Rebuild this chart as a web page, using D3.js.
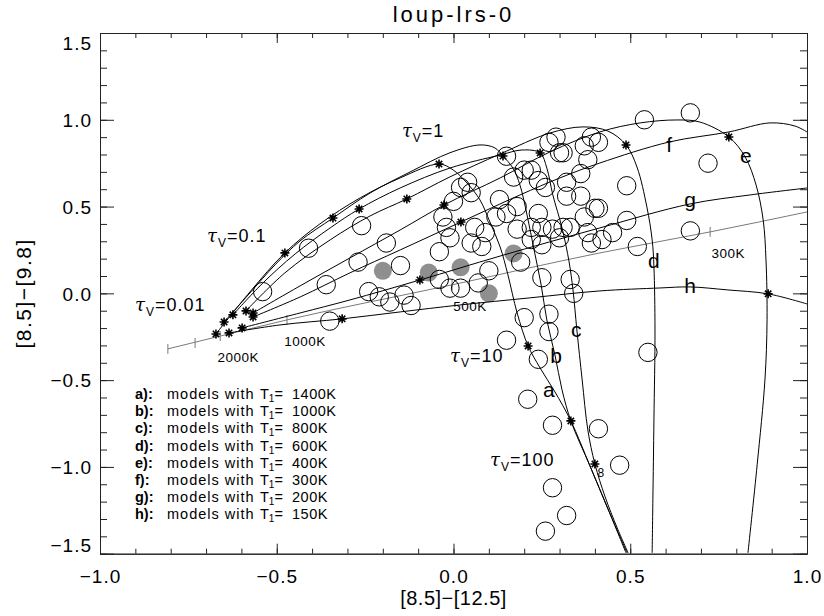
<!DOCTYPE html>
<html><head><meta charset="utf-8">
<script src="https://cdn.jsdelivr.net/npm/d3@7"></script>
<style>
body{margin:0;background:#fff}
text{font-family:"Liberation Sans",Arial,sans-serif;fill:#000}
</style>
</head><body>
<svg id="chart" width="824" height="616"></svg>
<script>
// ---------------- DATA ----------------
const titleText = "loup-lrs-0";
const xLabel = "[8.5]\u2212[12.5]";
const yLabel = "[8.5]\u2212[9.8]";
const xTicks = [-1.0, -0.5, 0.0, 0.5, 1.0];
const yTicks = [-1.5, -1.0, -0.5, 0.0, 0.5, 1.0, 1.5];

// model tracks (x = [8.5]-[12.5], y = [8.5]-[9.8]), tau_V increasing along each track
const curveA = [[-0.672,-0.234],[-0.576,0.008],[-0.477,0.233],[-0.378,0.400],[-0.264,0.550],[-0.151,0.665],[-0.041,0.745],[-0.001,0.711],[0.038,0.636],[0.075,0.538],[0.103,0.411],[0.132,0.267],[0.154,0.106],[0.180,-0.113],[0.211,-0.303],[0.245,-0.430],[0.287,-0.568],[0.332,-0.735],[0.386,-0.994],[0.437,-1.242],[0.488,-1.495]];
const curveB = [[-0.649,-0.165],[-0.576,0.002],[-0.505,0.164],[-0.434,0.302],[-0.341,0.434],[-0.236,0.578],[-0.123,0.699],[-0.010,0.810],[0.075,0.855],[0.117,0.838],[0.140,0.791],[0.168,0.722],[0.188,0.624],[0.208,0.452],[0.228,0.250],[0.248,0.048],[0.264,-0.153],[0.287,-0.355],[0.307,-0.556],[0.332,-0.735],[0.386,-0.994],[0.437,-1.242],[0.491,-1.495]];
const curveC = [[-0.624,-0.124],[-0.542,0.054],[-0.448,0.227],[-0.349,0.377],[-0.267,0.486],[-0.151,0.607],[-0.010,0.722],[0.132,0.797],[0.194,0.826],[0.245,0.809],[0.264,0.722],[0.281,0.567],[0.307,0.377],[0.327,0.181],[0.338,0.020],[0.349,-0.211],[0.364,-0.499],[0.380,-0.787],[0.400,-0.983],[0.429,-1.173],[0.463,-1.351],[0.494,-1.495]];
const curveD = [[-0.587,-0.101],[-0.477,0.118],[-0.349,0.308],[-0.236,0.446],[-0.132,0.544],[-0.010,0.671],[0.132,0.803],[0.273,0.924],[0.366,0.959],[0.437,0.935],[0.488,0.855],[0.519,0.728],[0.547,0.498],[0.562,0.308],[0.567,0.152],[0.570,-0.211],[0.567,-0.729],[0.564,-1.190],[0.562,-1.495]];
const curveE = [[-0.567,-0.113],[-0.434,0.043],[-0.293,0.204],[-0.151,0.365],[-0.027,0.509],[0.132,0.665],[0.273,0.815],[0.414,0.930],[0.528,0.982],[0.632,0.999],[0.697,0.987],[0.779,0.901],[0.825,0.786],[0.856,0.624],[0.876,0.423],[0.884,0.192],[0.887,-0.153],[0.881,-0.499],[0.859,-0.988],[0.833,-1.495]];
const curveF = [[-0.567,-0.136],[-0.434,-0.021],[-0.293,0.118],[-0.151,0.250],[0.021,0.411],[0.188,0.567],[0.301,0.665],[0.414,0.751],[0.610,0.872],[0.779,0.930],[0.895,0.982],[0.966,0.964],[1.0,0.930]];
const curveG = [[-0.598,-0.199],[-0.434,-0.113],[-0.293,-0.038],[-0.095,0.077],[0.132,0.215],[0.414,0.377],[0.669,0.515],[0.839,0.567],[1.0,0.607]];
const curveH = [[-0.635,-0.228],[-0.491,-0.182],[-0.315,-0.147],[-0.151,-0.107],[0.018,-0.067],[0.216,-0.026],[0.414,0.014],[0.584,0.031],[0.669,0.037],[0.774,0.020],[0.890,-0.003],[1.0,-0.061]];

// tau_V markers (asterisks)
const tauMarkers = [[-0.672,-0.234],[-0.649,-0.165],[-0.635,-0.228],[-0.624,-0.124],[-0.598,-0.199],[-0.587,-0.101],[-0.567,-0.113],[-0.567,-0.136],
  [-0.477,0.233],[-0.341,0.434],[-0.267,0.486],[-0.132,0.544],[-0.027,0.509],[0.021,0.411],[-0.095,0.077],[-0.315,-0.147],
  [-0.041,0.745],[0.140,0.791],[0.245,0.809],[0.488,0.855],[0.779,0.901],[0.890,-0.003],
  [0.211,-0.303],[0.332,-0.735],[0.400,-0.983]];

// blackbody locus and its temperature marks
const blackbody = [[-0.808,-0.320],[-0.660,-0.246],[-0.471,-0.153],[-0.004,0.049],[0.414,0.233],[0.726,0.354],[1.0,0.469]];
const bbTickX = [-0.808,-0.731,-0.660,-0.471,-0.004,0.726];
const bbTickY = [-0.320,-0.286,-0.246,-0.153,0.049,0.354];
const bbTickLabel = ["","","2000K","1000K","500K","300K"];

// observed sources
const openSources = [[-0.54,0.01],[-0.41,0.26],[-0.26,0.39],[-0.36,0.05],[-0.27,0.18],[-0.19,0.29],[-0.15,0.16],[-0.35,-0.16],[-0.24,0.01],[-0.21,-0.02],[-0.18,-0.05],[-0.14,-0.01],[-0.12,-0.07],
  [0.02,0.61],[0.04,0.64],[0.00,0.53],[-0.03,0.44],[-0.02,0.38],[-0.01,0.32],[-0.04,0.24],[0.06,0.38],[0.13,0.54],[0.15,0.46],[0.18,0.50],[0.12,0.44],[0.09,0.35],[0.08,0.27],[0.05,0.29],[0.18,0.37],[0.10,0.13],[-0.04,0.08],[-0.01,0.03],[0.02,0.03],[0.07,0.06],[0.15,0.79],
  [0.22,0.38],[0.24,0.46],[0.25,0.38],[0.28,0.37],[0.31,0.38],[0.33,0.38],[0.37,0.44],[0.40,0.49],[0.38,0.35],[0.25,0.28],[0.30,0.32],[0.39,0.29],[0.42,0.31],[0.45,0.35],[0.49,0.42],[0.25,0.09],[0.33,0.08],[0.34,0.00],[0.20,-0.14],[0.27,-0.12],
  [0.27,0.87],[0.29,0.90],[0.31,0.81],[0.37,0.85],[0.39,0.90],[0.41,0.87],[0.38,0.77],[0.20,0.71],[0.22,0.71],[0.24,0.65],[0.26,0.61],[0.32,0.64],[0.36,0.56],[0.17,0.67],[0.32,0.56],[0.36,0.69],[0.30,0.81],[0.05,0.58],[0.19,0.18],[0.22,0.31],[0.41,0.49],
  [0.49,0.62],[0.54,1.00],[0.67,1.04],[0.72,0.75],[0.52,0.27],[0.67,0.36],
  [0.27,-0.22],[0.15,-0.27],[0.24,-0.38],[0.21,-0.61],[0.28,-0.76],[0.41,-0.78],[0.47,-0.99],[0.28,-1.12],[0.32,-1.28],[0.26,-1.37],[0.55,-0.34]];
const graySources = [[-0.20,0.13],[-0.07,0.12],[0.02,0.15],[0.17,0.23],[0.10,0.00]];

// track letters
const trackLetters = ["a","b","c","d","e","f","g","h"];
const trackLetterX = [0.270,0.290,0.347,0.567,0.827,0.610,0.669,0.669];
const trackLetterY = [-0.597,-0.401,-0.251,0.146,0.752,0.815,0.498,0.002];

// tau labels
const tauValues = ["0.01","0.1","1","10","100"];
const tauLabelX = [-0.901,-0.697,-0.146,-0.010,0.103];
const tauLabelY = [-0.101,0.296,0.901,-0.395,-0.994];

const extraText = ["8"];
const extraX = [0.417];
const extraY = [-1.058];

// legend
const legendLetters = ["a","b","c","d","e","f","g","h"];
const legendTemps = ["1400K","1000K","800K","600K","400K","300K","200K","150K"];

// ---------------- DRAW ----------------
const W = 824, H = 616;
const L = 100, R = 807, T = 33, B = 553.7;
const svg = d3.select("#chart");
svg.append("rect").attr("width", W).attr("height", H).attr("fill", "#fff");

const x = d3.scaleLinear().domain([-1, 1]).range([L, R]);
const y = d3.scaleLinear().domain([-1.5, 1.5]).range([B, T]);

svg.append("defs").append("clipPath").attr("id", "clip")
  .append("rect").attr("x", L).attr("y", T).attr("width", R - L).attr("height", B - T);
const plot = svg.append("g").attr("clip-path", "url(#clip)");

// gray filled sources (under lines)
plot.selectAll("circle.gray").data(graySources).join("circle")
  .attr("class", "gray").attr("cx", d => x(d[0])).attr("cy", d => y(d[1])).attr("r", 9)
  .attr("fill", "#8f8f8f").attr("stroke", "none");

// blackbody
const smooth = d3.line().x(d => x(d[0])).y(d => y(d[1])).curve(d3.curveMonotoneX);
plot.append("path").datum(blackbody).attr("d", smooth)
  .attr("fill", "none").attr("stroke", "#7a7a7a").attr("stroke-width", 1);
plot.selectAll("line.bbt").data(bbTickX).join("line").attr("class", "bbt")
  .attr("x1", d => x(d)).attr("x2", d => x(d))
  .attr("y1", (d, i) => y(bbTickY[i]) - 5).attr("y2", (d, i) => y(bbTickY[i]) + 5)
  .attr("stroke", "#7a7a7a").attr("stroke-width", 1);
svg.selectAll("text.bbl").data(bbTickLabel).join("text").attr("class", "bbl")
  .attr("x", (d, i) => x(bbTickX[i]) + 18).attr("y", (d, i) => y(bbTickY[i]) + 26)
  .attr("text-anchor", "middle").attr("font-size", 13.5).attr("letter-spacing", 0.5)
  .text(d => d);

// model tracks
const track = d3.line().x(d => x(d[0])).y(d => y(d[1])).curve(d3.curveCatmullRom.alpha(0.5));
[curveA, curveB, curveC, curveD, curveE, curveF, curveG, curveH].forEach(c => {
  plot.append("path").datum(c).attr("d", track)
    .attr("fill", "none").attr("stroke", "#000").attr("stroke-width", 1);
});

// open sources
plot.selectAll("circle.open").data(openSources).join("circle")
  .attr("class", "open").attr("cx", d => x(d[0])).attr("cy", d => y(d[1])).attr("r", 9.2)
  .attr("fill", "none").attr("stroke", "#000").attr("stroke-width", 1);

// asterisks
const star8 = {draw(ctx, size) {
  const r = Math.sqrt(size) / 2, d = r * 0.7071;
  ctx.moveTo(-r, 0); ctx.lineTo(r, 0); ctx.moveTo(0, -r); ctx.lineTo(0, r);
  ctx.moveTo(-d, -d); ctx.lineTo(d, d); ctx.moveTo(-d, d); ctx.lineTo(d, -d);
}};
plot.selectAll("path.star").data(tauMarkers).join("path").attr("class", "star")
  .attr("transform", d => `translate(${x(d[0])},${y(d[1])})`)
  .attr("d", d3.symbol(star8, 81)).attr("fill", "none").attr("stroke", "#000").attr("stroke-width", 1.6);

// track letters
svg.selectAll("text.tl").data(trackLetters).join("text").attr("class", "tl")
  .attr("x", (d, i) => x(trackLetterX[i])).attr("y", (d, i) => y(trackLetterY[i]))
  .attr("text-anchor", "middle").attr("font-size", 21).text(d => d);

// tau labels
tauValues.forEach((v, i) => {
  const t = svg.append("text").attr("x", x(tauLabelX[i])).attr("y", y(tauLabelY[i]))
    .attr("font-size", 18).attr("letter-spacing", 1);
  t.append("tspan").attr("font-style", "italic").attr("font-family", "DejaVu Serif").text("\u03C4");
  t.append("tspan").attr("font-size", 12).attr("dy", 5).text("V");
  t.append("tspan").attr("dy", -5).text("=" + v);
});

svg.selectAll("text.extra").data(extraText).join("text").attr("class", "extra")
  .attr("x", (d, i) => x(extraX[i])).attr("y", (d, i) => y(extraY[i]))
  .attr("text-anchor", "middle").attr("font-size", 12).text(d => d);

// axes
const fmt = d3.format(".1f");
const xMinor = d3.range(-10, 11).map(v => v / 10);
const yMinor = d3.range(-15, 16).map(v => v / 10);
function styleAxis(g) {
  g.select(".domain").attr("stroke", "#222");
  g.selectAll(".tick line").attr("stroke", "#222");
}
svg.append("g").attr("transform", `translate(0,${B})`)
  .call(d3.axisBottom(x).tickValues(xMinor).tickSize(-5).tickSizeOuter(0).tickFormat("")).call(styleAxis);
svg.append("g").attr("transform", `translate(0,${B})`)
  .call(d3.axisBottom(x).tickValues(xTicks).tickSize(-10).tickSizeOuter(0).tickPadding(16).tickFormat(fmt))
  .call(styleAxis)
  .call(g => g.selectAll("text").attr("font-size", 19).attr("letter-spacing", 1).attr("fill", "#000")
    .attr("font-family", '"Liberation Sans",Arial,sans-serif'));
svg.append("g").attr("transform", `translate(0,${T})`)
  .call(d3.axisTop(x).tickValues(xMinor).tickSize(-5).tickSizeOuter(0).tickFormat("")).call(styleAxis);
svg.append("g").attr("transform", `translate(0,${T})`)
  .call(d3.axisTop(x).tickValues(xTicks).tickSize(-10).tickSizeOuter(0).tickFormat("")).call(styleAxis);
svg.append("g").attr("transform", `translate(${L},0)`)
  .call(d3.axisLeft(y).tickValues(yMinor).tickSize(-7).tickSizeOuter(0).tickFormat("")).call(styleAxis);
svg.append("g").attr("transform", `translate(${L},0)`)
  .call(d3.axisLeft(y).tickValues(yTicks).tickSize(-14).tickSizeOuter(0).tickPadding(8).tickFormat(fmt))
  .call(styleAxis)
  .call(g => g.selectAll("text").attr("font-size", 19).attr("letter-spacing", 1).attr("fill", "#000")
    .attr("font-family", '"Liberation Sans",Arial,sans-serif')
    .attr("dy", d => d === 1.5 ? "0.85em" : d === -1.5 ? "-0.1em" : "0.35em"));
svg.append("g").attr("transform", `translate(${R},0)`)
  .call(d3.axisRight(y).tickValues(yMinor).tickSize(-7).tickSizeOuter(0).tickFormat("")).call(styleAxis);
svg.append("g").attr("transform", `translate(${R},0)`)
  .call(d3.axisRight(y).tickValues(yTicks).tickSize(-14).tickSizeOuter(0).tickFormat("")).call(styleAxis);

// titles
svg.append("text").attr("x", (L + R) / 2).attr("y", 22).attr("text-anchor", "middle")
  .attr("font-size", 22).attr("letter-spacing", 3).text(titleText);
svg.append("text").attr("x", (L + R) / 2).attr("y", 605).attr("text-anchor", "middle")
  .attr("font-size", 20).attr("letter-spacing", 0.5).text(xLabel);
svg.append("text").attr("transform", `translate(31,${(T + B) / 2}) rotate(-90)`).attr("text-anchor", "middle")
  .attr("font-size", 21).attr("letter-spacing", 1.5).text(yLabel);

// legend
legendLetters.forEach((l, i) => {
  const yy = 399 + 17.2 * i;
  const t = svg.append("text").attr("y", yy).attr("font-size", 14.5);
  t.append("tspan").attr("x", 135).attr("font-weight", "bold").text(l + "):");
  t.append("tspan").attr("x", 167).attr("letter-spacing", 1).text("models with");
  t.append("tspan").attr("x", 260).text("T");
  t.append("tspan").attr("font-size", 10).attr("dy", 3).text("1");
  t.append("tspan").attr("dy", -3).text("=");
  t.append("tspan").attr("x", 292).attr("letter-spacing", 0.5).text(legendTemps[i]);
});
</script>
</body></html>
